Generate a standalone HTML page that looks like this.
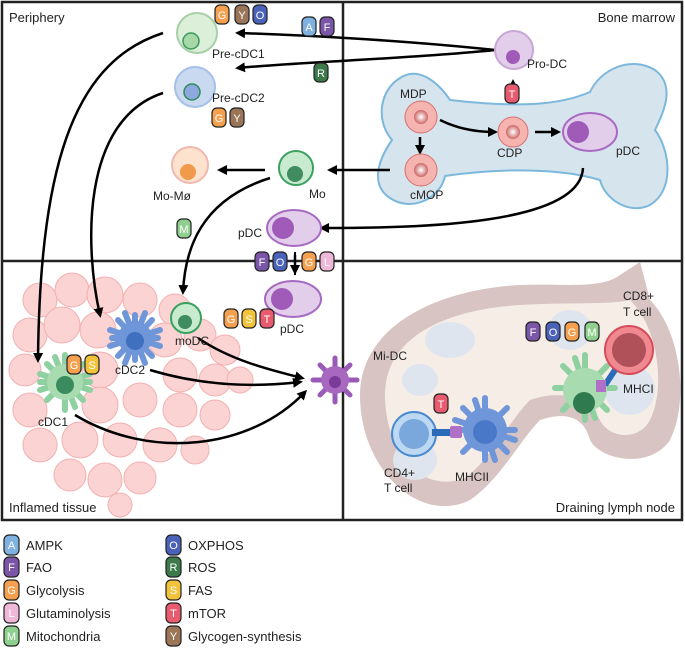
<!DOCTYPE html>
<html><head><meta charset="utf-8"><style>
body{margin:0;background:#fff}
svg{display:block;font-family:"Liberation Sans",sans-serif}
</style></head><body>
<svg width="685" height="655" viewBox="0 0 685 655" xmlns="http://www.w3.org/2000/svg">
<defs>
<marker id="ar" markerWidth="10" markerHeight="10" refX="7" refY="5" orient="auto" markerUnits="userSpaceOnUse"><path d="M0,0 L10,5 L0,10 z" fill="#000"/></marker>
<radialGradient id="g1"><stop offset="0" stop-color="#fff"/><stop offset="1" stop-color="#c66" /></radialGradient>
</defs>
<!-- panels -->
<rect x="2" y="2" width="680" height="518" fill="none" stroke="#222" stroke-width="2.5"/>
<line x1="343" y1="2" x2="343" y2="520" stroke="#222" stroke-width="2.5"/>
<line x1="2" y1="261" x2="682" y2="261" stroke="#222" stroke-width="2.5"/>
<g font-size="13" fill="#222">
<text x="9" y="22">Periphery</text>
<text x="675" y="22" text-anchor="end">Bone marrow</text>
<text x="9" y="512">Inflamed tissue</text>
<text x="675" y="512" text-anchor="end">Draining lymph node</text>
</g>
<!-- bone -->
<path d="M400,78 C420,65 440,85 450,100 C520,108 560,105 590,92 C600,70 630,55 655,70 C675,85 665,110 655,130 C670,150 675,190 650,205 C630,215 605,200 600,180 C560,168 500,168 445,176 C440,200 410,212 390,198 C370,185 378,160 392,140 C375,120 380,90 400,78 z" fill="#d6e4ee" stroke="#7bb8dc" stroke-width="2"/>
<!-- lymph node -->
<path d="M360,395 C360,330 430,290 520,285 C560,283 600,290 620,275 L640,262 L650,300 C680,330 690,400 670,440 C650,470 600,460 590,440 C585,420 570,410 540,420 C520,440 500,480 470,500 C420,525 360,470 360,395 z" fill="#d8c4c2"/>
<path d="M385,395 C385,340 440,310 520,305 C570,302 610,305 630,300 C660,330 665,390 650,420 C640,440 610,440 600,420 C585,395 560,390 530,400 C510,420 490,460 465,478 C420,495 385,450 385,395 z" fill="#f6eee6"/>
<g fill="#dfe5ef">
<ellipse cx="450" cy="340" rx="25" ry="18"/><ellipse cx="420" cy="380" rx="18" ry="16"/>
<ellipse cx="570" cy="330" rx="22" ry="20"/><ellipse cx="630" cy="390" rx="25" ry="25"/>
<ellipse cx="415" cy="460" rx="22" ry="20"/>
</g>
<!-- inflamed tissue -->
<g fill="#fbd3d3" stroke="#f2b0b0" stroke-width="1">
<circle cx="40" cy="300" r="17"/><circle cx="72" cy="290" r="17"/><circle cx="105" cy="295" r="18"/><circle cx="140" cy="300" r="17"/><circle cx="175" cy="310" r="16"/>
<circle cx="30" cy="335" r="17"/><circle cx="62" cy="325" r="18"/><circle cx="98" cy="330" r="18"/><circle cx="165" cy="340" r="17"/><circle cx="200" cy="335" r="16"/><circle cx="225" cy="350" r="15"/>
<circle cx="25" cy="370" r="16"/><circle cx="100" cy="370" r="18"/><circle cx="180" cy="375" r="17"/><circle cx="215" cy="380" r="16"/><circle cx="240" cy="380" r="13"/>
<circle cx="30" cy="410" r="17"/><circle cx="100" cy="405" r="18"/><circle cx="140" cy="400" r="17"/><circle cx="180" cy="410" r="17"/><circle cx="215" cy="415" r="15"/>
<circle cx="40" cy="445" r="17"/><circle cx="80" cy="440" r="18"/><circle cx="120" cy="440" r="17"/><circle cx="160" cy="445" r="17"/><circle cx="195" cy="450" r="14"/>
<circle cx="70" cy="475" r="16"/><circle cx="105" cy="480" r="17"/><circle cx="140" cy="478" r="16"/><circle cx="120" cy="505" r="12"/>
</g>
<!-- arrows -->
<g fill="none" stroke="#000" stroke-width="2.5">
<path d="M495,50 C400,40 300,35 238,33" marker-end="url(#ar)"/>
<path d="M495,50 C420,58 300,62 238,68" marker-end="url(#ar)"/>
<path d="M163,33 C80,60 40,150 38,360" marker-end="url(#ar)"/>
<path d="M163,93 C80,120 85,250 100,315" marker-end="url(#ar)"/>
<path d="M265,170 L220,170" marker-end="url(#ar)"/>
<path d="M390,170 L330,170" marker-end="url(#ar)"/>
<path d="M270,178 C200,200 185,250 183,292" marker-end="url(#ar)"/>
<path d="M583,168 C580,225 420,228 322,228" marker-end="url(#ar)"/>
<path d="M295,255 L295,272" marker-end="url(#ar)"/>
<path d="M513,103 L513,82" marker-end="url(#ar)"/>
<path d="M440,120 C460,130 480,132 495,132" marker-end="url(#ar)"/>
<path d="M535,132 L558,132" marker-end="url(#ar)"/>
<path d="M420,137 L420,152" marker-end="url(#ar)"/>
<path d="M198,338 C230,360 270,370 302,378" marker-end="url(#ar)"/>
<path d="M150,370 C200,385 250,388 300,382" marker-end="url(#ar)"/>
<path d="M75,415 C150,460 250,450 305,392" marker-end="url(#ar)"/>
</g>
<line x1="295" y1="252" x2="295" y2="275" stroke="#000" stroke-width="2"/>
<!-- cells -->
<g>
<circle cx="197" cy="33" r="20" fill="#dcefd9" stroke="#a8d0a8" stroke-width="2"/><circle cx="191" cy="41" r="8" fill="#a6d8a8" stroke="#3a9a5a" stroke-width="1.5"/>
<circle cx="195" cy="87" r="20" fill="#c8d9f0" stroke="#a6c0ea" stroke-width="2"/><circle cx="192" cy="92" r="8" fill="#8ea8e0" stroke="#2f8a5a" stroke-width="1.5"/>
<circle cx="190" cy="165" r="18" fill="#fde2cd" stroke="#f0b8b0" stroke-width="2"/><circle cx="188" cy="172" r="8" fill="#f29a4c"/>
<circle cx="296" cy="168" r="17" fill="#c8ebd0" stroke="#3aa060" stroke-width="2"/><circle cx="295" cy="174" r="8" fill="#3e8c60"/>
<ellipse cx="294" cy="228" rx="27" ry="18" fill="#e2cdeb" stroke="#a66bc0" stroke-width="2"/><circle cx="283" cy="228" r="11" fill="#a05ab8"/>
<ellipse cx="293" cy="299" rx="28" ry="18" fill="#e2cdeb" stroke="#a66bc0" stroke-width="2"/><circle cx="282" cy="299" r="11" fill="#a05ab8"/>
<circle cx="514" cy="50" r="19" fill="#e2cdeb" stroke="#c8a6d6" stroke-width="2"/><circle cx="513" cy="57" r="7" fill="#a05ab8"/>
<circle cx="421" cy="117" r="16" fill="#f6b4b0" stroke="#d87070"/><circle cx="421" cy="117" r="7" fill="url(#g1)"/>
<circle cx="421" cy="170" r="16" fill="#f6b4b0" stroke="#d87070"/><circle cx="421" cy="170" r="7" fill="url(#g1)"/>
<circle cx="513" cy="132" r="15" fill="#f6b4b0" stroke="#d87070"/><circle cx="513" cy="132" r="7" fill="url(#g1)"/>
<ellipse cx="590" cy="132" rx="27" ry="19" fill="#e2cdeb" stroke="#a66bc0" stroke-width="2"/><circle cx="578" cy="132" r="11" fill="#a05ab8"/>
<circle cx="186" cy="318" r="15" fill="#c8ebd0" stroke="#3aa060" stroke-width="2"/><circle cx="185" cy="322" r="7" fill="#3e8c60"/>
</g>
<!-- dendritic cells -->
<g stroke-linecap="round">
<g stroke="#6f96d8" stroke-width="6"><path d="M135,315 L135,360 M112,338 L158,338 M118,320 L152,356 M118,356 L152,320 M125,313 L145,363 M110,330 L160,346 M110,346 L160,330 M145,313 L125,363"/></g>
<circle cx="135" cy="338" r="17" fill="#6f96d8"/><circle cx="135" cy="341" r="9" fill="#3f6fbf"/>
<g stroke="#8fd0a0" stroke-width="6"><path d="M65,355 L65,410 M40,382 L90,382 M47,364 L83,400 M47,400 L83,364 M55,357 L75,407 M40,374 L90,390 M40,390 L90,374"/></g>
<circle cx="65" cy="382" r="18" fill="#a8dcb0"/><circle cx="65" cy="385" r="9" fill="#3a8c5e"/>
<g stroke="#9a5ab8" stroke-width="5"><path d="M335,358 L335,402 M313,380 L357,380 M320,365 L350,395 M320,395 L350,365"/></g>
<circle cx="335" cy="380" r="14" fill="#a868c0"/><circle cx="335" cy="382" r="6" fill="#7a3a98"/>
<g stroke="#6f96d8" stroke-width="6"><path d="M485,398 L485,460 M455,430 L515,430 M463,408 L507,452 M463,452 L507,408 M475,400 L495,460 M455,420 L515,440"/></g>
<circle cx="485" cy="430" r="22" fill="#6f96d8"/><circle cx="485" cy="432" r="12" fill="#4a78c8"/>
<g stroke="#8fd0a0" stroke-width="6"><path d="M585,355 L585,420 M555,388 L615,388 M563,366 L607,410 M563,410 L607,366 M575,358 L595,418"/></g>
<circle cx="585" cy="390" r="22" fill="#a8dcb0"/><circle cx="584" cy="403" r="11" fill="#2f7a4e"/>
</g>
<circle cx="414" cy="434" r="22" fill="#bcd8f2" stroke="#4a8ad0" stroke-width="2"/><circle cx="414" cy="434" r="15" fill="#7aa8dc"/>
<rect x="432" y="429" width="18" height="7" fill="#2a6ab8"/><rect x="450" y="426" width="12" height="12" rx="2" fill="#b070c8"/>
<circle cx="629" cy="350" r="24" fill="#f08890" stroke="#d84a5a" stroke-width="2"/><circle cx="629" cy="350" r="17" fill="#b05058"/>
<path d="M615,370 L605,385" stroke="#2a6ab8" stroke-width="6"/><rect x="596" y="380" width="10" height="12" fill="#b070c8"/>
<!-- labels -->
<g font-size="12" fill="#222">
<text x="212" y="58">Pre-cDC1</text><text x="212" y="102">Pre-cDC2</text>
<text x="527" y="68">Pro-DC</text>
<text x="400" y="98">MDP</text><text x="410" y="199">cMOP</text><text x="497" y="157">CDP</text><text x="616" y="155">pDC</text>
<text x="153" y="200">Mo-Mø</text><text x="309" y="198">Mo</text><text x="238" y="237">pDC</text>
<text x="175" y="345">moDC</text><text x="280" y="333">pDC</text>
<text x="115" y="374">cDC2</text><text x="38" y="426">cDC1</text>
<text x="373" y="360">Mi-DC</text>
<text x="384" y="477">CD4+</text><text x="384" y="492">T cell</text>
<text x="455" y="481">MHCII</text>
<text x="623" y="300">CD8+</text><text x="623" y="316">T cell</text>
<text x="623" y="393">MHCI</text>
</g>
<g font-size="11" text-anchor="middle">
<g stroke="#222" stroke-width="1.2">
<rect x="215" y="5" width="14" height="19" rx="5" fill="#f5a04e"/><rect x="235" y="5" width="14" height="19" rx="5" fill="#9a7558"/><rect x="253" y="5" width="14" height="19" rx="5" fill="#4a63b8"/>
<rect x="302" y="17" width="14" height="19" rx="5" fill="#7fb2e0"/><rect x="320" y="17" width="14" height="19" rx="5" fill="#7b56a8"/>
<rect x="314" y="63" width="14" height="19" rx="5" fill="#3d7a4a"/>
<rect x="212" y="108" width="14" height="19" rx="5" fill="#f5a04e"/><rect x="230" y="108" width="14" height="19" rx="5" fill="#9a7558"/>
<rect x="177" y="219" width="14" height="19" rx="5" fill="#8fd08f"/>
<rect x="255" y="252" width="14" height="19" rx="5" fill="#7b56a8"/><rect x="273" y="252" width="14" height="19" rx="5" fill="#4a63b8"/><rect x="302" y="252" width="14" height="19" rx="5" fill="#f5a04e"/><rect x="320" y="252" width="14" height="19" rx="5" fill="#f0b8d8"/>
<rect x="224" y="309" width="14" height="19" rx="5" fill="#f5a04e"/><rect x="242" y="309" width="14" height="19" rx="5" fill="#f2c23a"/><rect x="260" y="309" width="14" height="19" rx="5" fill="#e85a6e"/>
<rect x="67" y="355" width="14" height="19" rx="5" fill="#f5a04e"/><rect x="85" y="355" width="14" height="19" rx="5" fill="#f2c23a"/>
<rect x="526" y="322" width="14" height="19" rx="5" fill="#7b56a8"/><rect x="546" y="322" width="14" height="19" rx="5" fill="#4a63b8"/><rect x="565" y="322" width="14" height="19" rx="5" fill="#f5a04e"/><rect x="585" y="322" width="14" height="19" rx="5" fill="#8fd08f"/>
<rect x="434" y="394" width="14" height="19" rx="5" fill="#e85a6e"/>
<rect x="505" y="84" width="14" height="19" rx="5" fill="#e85a6e"/>
</g>
<g fill="#fff">
<text x="222" y="19">G</text><text x="242" y="19">Y</text><text x="260" y="19">O</text>
<text x="309" y="31">A</text><text x="327" y="31">F</text><text x="321" y="77">R</text>
<text x="219" y="122">G</text><text x="237" y="122">Y</text><text x="184" y="233">M</text>
<text x="262" y="266">F</text><text x="280" y="266">O</text><text x="309" y="266">G</text><text x="327" y="266">L</text>
<text x="231" y="323">G</text><text x="249" y="323">S</text><text x="267" y="323">T</text>
<text x="74" y="369">G</text><text x="92" y="369">S</text>
<text x="533" y="336">F</text><text x="553" y="336">O</text><text x="572" y="336">G</text><text x="592" y="336">M</text>
<text x="441" y="408">T</text><text x="512" y="98">T</text>
</g>
</g>
<!-- legend -->
<g stroke="#222" stroke-width="1.2">
<rect x="4" y="535" width="15" height="20" rx="5" fill="#7fb2e0"/><rect x="4" y="557" width="15" height="20" rx="5" fill="#7b56a8"/><rect x="4" y="580" width="15" height="20" rx="5" fill="#f5a04e"/><rect x="4" y="603" width="15" height="20" rx="5" fill="#f0b8d8"/><rect x="4" y="626" width="15" height="20" rx="5" fill="#8fd08f"/>
<rect x="166" y="535" width="15" height="20" rx="5" fill="#4a63b8"/><rect x="166" y="557" width="15" height="20" rx="5" fill="#3d7a4a"/><rect x="166" y="580" width="15" height="20" rx="5" fill="#f2c23a"/><rect x="166" y="603" width="15" height="20" rx="5" fill="#e85a6e"/><rect x="166" y="626" width="15" height="20" rx="5" fill="#9a7558"/>
</g>
<g font-size="11" fill="#fff" text-anchor="middle">
<text x="11.5" y="549">A</text><text x="11.5" y="571">F</text><text x="11.5" y="594">G</text><text x="11.5" y="617">L</text><text x="11.5" y="640">M</text>
<text x="173.5" y="549">O</text><text x="173.5" y="571">R</text><text x="173.5" y="594">S</text><text x="173.5" y="617">T</text><text x="173.5" y="640">Y</text>
</g>
<g font-size="13" fill="#222">
<text x="26" y="550">AMPK</text><text x="26" y="572">FAO</text><text x="26" y="595">Glycolysis</text><text x="26" y="618">Glutaminolysis</text><text x="26" y="641">Mitochondria</text>
<text x="188" y="550">OXPHOS</text><text x="188" y="572">ROS</text><text x="188" y="595">FAS</text><text x="188" y="618">mTOR</text><text x="188" y="641">Glycogen-synthesis</text>
</g>
</svg>
</body></html>
